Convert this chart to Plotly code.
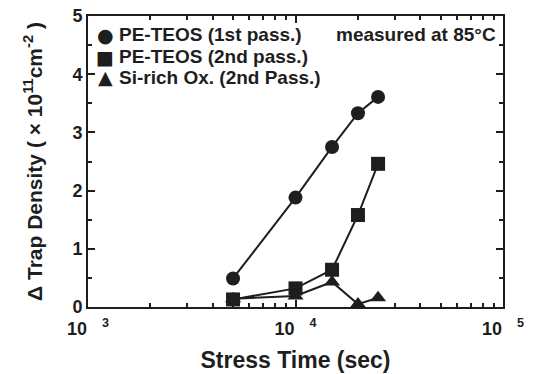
import plotly.graph_objects as go

# ---- data ----
stress_time = [5000, 10000, 15000, 20000, 25000]
teos_1st = [0.49, 1.88, 2.75, 3.33, 3.61]
teos_2nd = [0.13, 0.32, 0.64, 1.58, 2.46]
si_rich_2nd = [0.14, 0.19, 0.43, 0.05, 0.16]

series_names = ["PE-TEOS (1st pass.)", "PE-TEOS (2nd pass.)", "Si-rich Ox. (2nd Pass.)"]
series_values = [teos_1st, teos_2nd, si_rich_2nd]
series_symbols = ["circle", "square", "triangle-up"]
legend_glyphs = ["\u25CF", "\u25A0", "\u25B2"]

x_tick_vals = [1e3, 1e4, 1e5]
x_tick_text = ["10\u00a0\u00a0\u00a0<sup>3</sup>", "10\u00a0\u00a0\u00a0<sup>4</sup>", "10\u00a0\u00a0\u00a0<sup>5</sup>"]
x_minor_vals = [m * 10 ** e for e in (3, 4) for m in range(2, 10)]
y_tick_vals = [0, 1, 2, 3, 4, 5]

INK = "#1e1e1e"
FONT = "Liberation Sans, Arial, sans-serif"

fig = go.Figure()
for name, vals, sym in zip(series_names, series_values, series_symbols):
    fig.add_trace(go.Scatter(
        x=stress_time, y=vals, mode="lines+markers", name=name, showlegend=False,
        line=dict(color=INK, width=2),
        marker=dict(symbol=sym, size=14, color=INK),
        cliponaxis=False,
    ))

# legend drawn as text rows (tight line spacing as in the reference)
row_y = [0.935, 0.86, 0.79]
for name, glyph, yy in zip(series_names, legend_glyphs, row_y):
    fig.add_annotation(
        text=glyph, xref="paper", yref="paper", x=0, y=yy,
        xanchor="center", yanchor="middle", xshift=17, showarrow=False,
        font=dict(family="DejaVu Sans", size=19, color=INK),
    )
    fig.add_annotation(
        text=name, xref="paper", yref="paper", x=0, y=yy,
        xanchor="left", yanchor="middle", xshift=29, showarrow=False,
        font=dict(family=FONT, size=19, color=INK, weight="bold"),
    )

fig.add_annotation(
    text="measured at 85°C", xref="paper", yref="paper", x=1, y=0.935,
    xanchor="right", yanchor="middle", xshift=-5, showarrow=False,
    font=dict(family=FONT, size=19, color=INK, weight="bold"),
)

axis_common = dict(
    showline=True, linecolor=INK, linewidth=2, mirror="allticks",
    ticks="inside", ticklen=7, tickwidth=1.5, tickcolor=INK,
    showgrid=False, zeroline=False, automargin=False,
    tickfont=dict(family=FONT, size=18, color=INK, weight="bold"),
)

fig.update_xaxes(
    type="log", range=[3, 5], tickvals=x_tick_vals, ticktext=x_tick_text,
    ticklabelstandoff=4,
    minor=dict(tickvals=x_minor_vals, ticks="inside", ticklen=4, tickwidth=1.5, tickcolor=INK),
    title=dict(text="Stress Time (sec)", standoff=14,
               font=dict(family=FONT, size=23, color=INK, weight="bold")),
    **axis_common,
)
fig.update_yaxes(
    range=[0, 5], tickvals=y_tick_vals,
    minor=dict(dtick=0.5, ticks="inside", ticklen=4, tickwidth=1.5, tickcolor=INK),
    title=dict(text="\u0394 Trap Density ( × 10<sup>11</sup>cm<sup>-2</sup> )", standoff=24,
               font=dict(family=FONT, size=21, color=INK, weight="bold")),
    **axis_common,
)

fig.update_layout(
    width=536, height=374,
    margin=dict(l=88, r=33, t=16, b=67),
    paper_bgcolor="white", plot_bgcolor="white",
    showlegend=False,
)

fig.write_html("out.html")
